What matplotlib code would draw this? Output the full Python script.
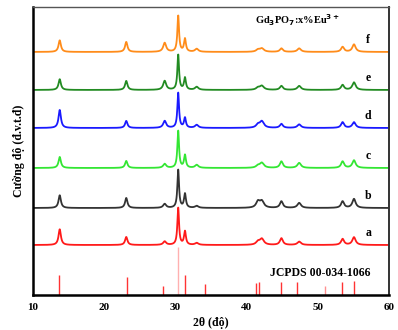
import numpy as np
import matplotlib.pyplot as plt

plt.rcParams['font.family'] = ['Liberation Serif', 'DejaVu Serif']
plt.rcParams['font.weight'] = 'bold'

# peak positions (2theta) shared by all samples
peak_pos = [13.75, 23.1, 28.5, 30.4, 31.35, 33.0, 41.6, 42.15, 44.9, 47.4, 53.5, 55.1]
peak_width = [0.2, 0.2, 0.25, 0.14, 0.16, 0.28, 0.3, 0.35, 0.25, 0.3, 0.25, 0.28]

labels = ['a', 'b', 'c', 'd', 'e', 'f']
colors = ['#ff1a1a', '#333333', '#33e633', '#1a1aff', '#228b22', '#ff8c1a']
offsets = [50, 87, 127, 167, 205, 243]
heights = [
    [15.7, 8, 3.5, 37, 13.5, 2, 3, 6, 6.7, 3.3, 6, 7.7],     # a
    [12.7, 10, 4, 38, 14, 2, 6, 6.6, 6.6, 5, 6.6, 9],         # b
    [11, 7, 4, 37, 12.7, 3, 2, 5, 6.5, 5, 6.5, 7.6],          # c
    [18, 7, 7, 35, 10, 3, 3, 6.5, 4, 3.5, 5.7, 5.7],          # d
    [10.7, 9, 9, 35, 12, 3, 2, 4, 4, 4, 5, 7.5],              # e
    [11.6, 10, 9, 36, 13, 3, 2, 3.4, 3.5, 3.5, 5, 7.5],       # f
]

# JCPDS 00-034-1066 reference lines
ref_pos = [13.7, 23.2, 28.3, 30.35, 31.3, 34.2, 41.35, 41.75, 44.8, 47.1, 51.0, 53.4, 55.1]
ref_int = [20, 18, 9, 48, 20, 11, 12, 13, 13, 13, 9, 13, 14]
ref_col = ['#ff3333'] * 13
ref_col[3] = '#ffb0b0'
ref_col[10] = '#ff9090'

x = np.linspace(10, 60, 3000)

fig = plt.figure(figsize=(3.98, 3.30), dpi=100)
ax = fig.add_axes([0.083, 0.106, 0.894, 0.873])

for lab, col, off, h in zip(labels, colors, offsets, heights):
    y = np.zeros_like(x)
    for p, w, a in zip(peak_pos, peak_width, h):
        y += a * w**2 / ((x - p)**2 + w**2)
    ax.plot(x, y + off, color=col, lw=1.3)
    ax.text(57.1, off + 12, lab, fontsize=8.5, fontweight='bold', ha='center', va='center')

ax.vlines(ref_pos, 0, ref_int, colors=ref_col, lw=1.0)

ax.text(47.2, 275, r'Gd$_\mathbf{3}$PO$_\mathbf{7}$:x%Eu$^\mathbf{3+}$', fontsize=7.5,
        fontweight='bold', ha='center', va='center')
ax.text(50.4, 22, 'JCPDS 00-034-1066', fontsize=8.5, fontweight='bold', ha='center', va='center')

ax.set_xlim(10, 60)
ax.set_ylim(0, 288)
ax.set_xticks([10, 20, 30, 40, 50, 60])
ax.set_yticks([])
ax.tick_params(axis='x', length=0, labelsize=8, pad=6)
for t in ax.get_xticklabels():
    t.set_fontweight('bold')
ax.set_xlabel('2θ (độ)', fontsize=8.5, fontweight='bold', labelpad=3)
ax.set_ylabel('Cường độ (đ.v.t.đ)', fontsize=8.5, fontweight='bold', labelpad=6)

ax.spines['left'].set_linewidth(1.8)
ax.spines['bottom'].set_linewidth(1.8)
ax.spines['top'].set_linewidth(1.0)
ax.spines['right'].set_linewidth(1.4)
ax.spines['top'].set_color('#555555')
ax.spines['right'].set_color('#333333')

fig.savefig('out.png', dpi=100)
